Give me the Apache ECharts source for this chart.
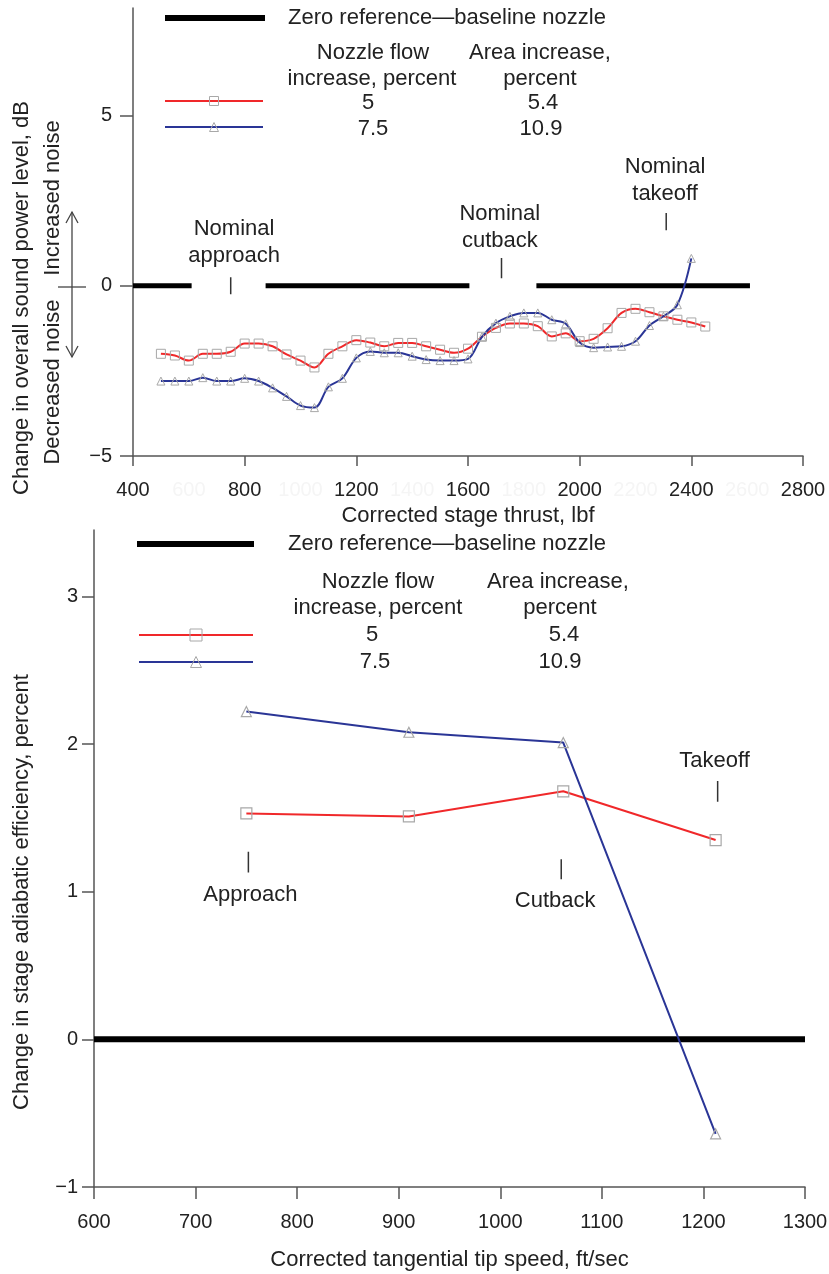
<!DOCTYPE html>
<html><head><meta charset="utf-8">
<script src="https://cdn.jsdelivr.net/npm/echarts@6/dist/echarts.min.js"></script>
<style>html,body{margin:0;padding:0;background:#fff}#c{width:829px;height:1274px}</style>
</head><body><div id="c"></div>
<script>
// ---------- Top chart data ----------
const thrustRed = [500,550,600,650,700,750,800,850,900,950,1000,1050,1100,1150,1200,1250,1300,1350,1400,1450,1500,1550,1600,1650,1700,1750,1800,1850,1900,1950,2000,2050,2100,2150,2200,2250,2300,2350,2400,2450];
const noiseRed = [-2.0,-2.05,-2.2,-2.0,-2.0,-1.94,-1.7,-1.7,-1.78,-2.02,-2.2,-2.4,-2.0,-1.78,-1.6,-1.67,-1.78,-1.68,-1.68,-1.78,-1.88,-1.97,-1.85,-1.5,-1.24,-1.11,-1.11,-1.19,-1.49,-1.4,-1.63,-1.56,-1.25,-0.8,-0.68,-0.78,-0.9,-1.0,-1.08,-1.2];
const thrustBlue = [500,550,600,650,700,750,800,850,900,950,1000,1050,1100,1150,1200,1250,1300,1350,1400,1450,1500,1550,1600,1650,1700,1750,1800,1850,1900,1950,2000,2050,2100,2150,2200,2250,2300,2350,2400];
const noiseBlue = [-2.8,-2.8,-2.8,-2.7,-2.8,-2.8,-2.72,-2.8,-3.0,-3.25,-3.52,-3.58,-2.97,-2.72,-2.12,-1.93,-1.97,-1.97,-2.07,-2.17,-2.2,-2.2,-2.15,-1.5,-1.1,-0.9,-0.8,-0.8,-1.0,-1.12,-1.67,-1.82,-1.8,-1.78,-1.63,-1.17,-0.9,-0.56,0.8];
const zeroSegmentsTop = [[400,610],[875,1605],[1845,2610]];
const xTickValuesTop = [400,800,1200,1600,2000,2400,2800];
const xLabelValuesTop = [400,600,800,1000,1200,1400,1600,1800,2000,2200,2400,2600,2800];
const yTickValuesTop = [-5,0,5];
const annotTopText = ['Nominal\napproach','Nominal\ncutback','Nominal\ntakeoff'];
const annotTopTickX = [750,1720,2310];
const annotTopTickY = [[-0.25,0.25],[0.22,0.81],[1.63,2.13]];
const annotTopTextPos = [[762,1.28],[1714,1.72],[2306,3.09]];

// ---------- Bottom chart data ----------
const tipSpeed = [750,910,1062,1212];
const effRed = [1.53,1.51,1.68,1.35];
const effBlue = [2.22,2.08,2.01,-0.64];
const zeroSegmentBottom = [600,1300];
const yTickValuesBottom = [-1,0,1,2,3];
const annotBotText = ['Approach','Cutback','Takeoff'];
const annotBotTickX = [752,1060,1214];
const annotBotTickY = [[1.13,1.27],[1.085,1.22],[1.61,1.75]];
const annotBotTextPos = [[754,0.98],[1054,0.935],[1211,1.885]];

const FONT = "'Liberation Sans', Arial, Helvetica, sans-serif";
const TXT = '#222';
const AX = '#555';
const RED = '#f0282a';
const BLUE = '#2a3596';
const MK = '#a8a8a8';
const FS = 22;

const chart = echarts.init(document.getElementById('c'), null, {renderer:'canvas'});

function zip(xs, ys){ return xs.map((x,i)=>[x, ys[i]]); }
const fmtNum = v => String(v).replace('-','\u2212');

const series = [];
zeroSegmentsTop.forEach(s => series.push({
  type:'line', xAxisIndex:0, yAxisIndex:0, data:[[s[0],0],[s[1],0]],
  symbol:'none', lineStyle:{color:'#000', width:5}, silent:true, z:2
}));
annotTopTickX.forEach((x,i) => series.push({
  type:'line', xAxisIndex:0, yAxisIndex:0, data:[[x,annotTopTickY[i][0]],[x,annotTopTickY[i][1]]],
  symbol:'none', lineStyle:{color:'#333', width:1.5}, silent:true, z:2
}));
series.push({
  type:'scatter', xAxisIndex:0, yAxisIndex:0,
  data: annotTopTextPos.map((p,i)=>[p[0],p[1],annotTopText[i]]),
  symbolSize:1, itemStyle:{color:'rgba(0,0,0,0)'}, silent:true,
  label:{show:true, position:'inside', formatter:p=>p.data[2], color:TXT, opacity:1, textBorderWidth:0, fontSize:FS, fontFamily:FONT, lineHeight:27, align:'center'}
});
series.push({
  type:'line', xAxisIndex:0, yAxisIndex:0, data: zip(thrustRed, noiseRed), smooth:0.35,
  symbol:'rect', symbolSize:9, lineStyle:{color:RED, width:2}, itemStyle:{color:'rgba(255,255,255,0)', borderColor:MK, borderWidth:1}, z:4
});
series.push({
  type:'line', xAxisIndex:0, yAxisIndex:0, data: zip(thrustBlue, noiseBlue), smooth:0.35,
  symbol:'triangle', symbolSize:8, lineStyle:{color:BLUE, width:2}, itemStyle:{color:'rgba(255,255,255,0)', borderColor:MK, borderWidth:1}, z:4
});

series.push({
  type:'line', xAxisIndex:1, yAxisIndex:1, data:[[zeroSegmentBottom[0],0],[zeroSegmentBottom[1],0]],
  symbol:'none', lineStyle:{color:'#000', width:6}, silent:true, z:2
});
annotBotTickX.forEach((x,i) => series.push({
  type:'line', xAxisIndex:1, yAxisIndex:1, data:[[x,annotBotTickY[i][0]],[x,annotBotTickY[i][1]]],
  symbol:'none', lineStyle:{color:'#333', width:1.5}, silent:true, z:2
}));
series.push({
  type:'scatter', xAxisIndex:1, yAxisIndex:1,
  data: annotBotTextPos.map((p,i)=>[p[0],p[1],annotBotText[i]]),
  symbolSize:1, itemStyle:{color:'rgba(0,0,0,0)'}, silent:true,
  label:{show:true, position:'inside', formatter:p=>p.data[2], color:TXT, opacity:1, textBorderWidth:0, fontSize:FS, fontFamily:FONT, align:'center'}
});
series.push({
  type:'line', xAxisIndex:1, yAxisIndex:1, data: zip(tipSpeed, effRed),
  symbol:'rect', symbolSize:11, lineStyle:{color:RED, width:2}, itemStyle:{color:'rgba(255,255,255,0)', borderColor:MK, borderWidth:1.2}, z:4
});
series.push({
  type:'line', xAxisIndex:1, yAxisIndex:1, data: zip(tipSpeed, effBlue),
  symbol:'triangle', symbolSize:10, lineStyle:{color:BLUE, width:2}, itemStyle:{color:'rgba(255,255,255,0)', borderColor:MK, borderWidth:1.2}, z:4
});

const axisLine = {show:true, onZero:false, lineStyle:{color:AX, width:1.5}};
const axisTick = {show:true, inside:false, length:11, lineStyle:{color:AX, width:1.5}};

function txt(x,y,t,opt){
  return {type:'text', x:x, y:y, style:Object.assign({text:t, fill:TXT, font:FS+'px '+FONT, align:'center', verticalAlign:'middle'}, opt||{})};
}
function vtxt(x,y,t){
  return {type:'text', x:x, y:y, rotation:Math.PI/2, style:{text:t, fill:TXT, font:FS+'px '+FONT, align:'center', verticalAlign:'middle'}};
}
function ln(x1,y1,x2,y2,color,w){
  return {type:'line', shape:{x1,y1,x2,y2}, style:{stroke:color, lineWidth:w}};
}
function rectMk(cx,cy,s){
  return {type:'rect', shape:{x:cx-s/2,y:cy-s/2,width:s,height:s}, style:{fill:'rgba(255,255,255,0)', stroke:MK, lineWidth:1}};
}
function triMk(cx,cy,s){
  return {type:'polygon', shape:{points:[[cx,cy-s/2],[cx+s/2,cy+s/2],[cx-s/2,cy+s/2]]}, style:{fill:'rgba(255,255,255,0)', stroke:MK, lineWidth:1}};
}

const graphic = [
  ln(165,18,265,18,'#000',6),
  txt(288,18,'Zero reference\u2014baseline nozzle',{align:'left'}),
  txt(373,53,'Nozzle flow'), txt(372,79,'increase, percent'),
  txt(540,53,'Area increase,'), txt(540,79,'percent'),
  ln(165,101,263,101,RED,2), rectMk(214,101,9),
  txt(368,103,'5'), txt(543,103,'5.4'),
  ln(165,127,263,127,BLUE,2), triMk(214,127,9),
  txt(373,129,'7.5'), txt(541,129,'10.9'),
  vtxt(22,298,'Change in overall sound power level, dB'),
  vtxt(53,198,'Increased noise'),
  vtxt(53,382,'Decreased noise'),
  ln(72,212,72,357,'#444',1.3),
  {type:'polyline', shape:{points:[[66,223],[72,212],[78,223]]}, style:{stroke:'#444', lineWidth:1.3, fill:null}},
  {type:'polyline', shape:{points:[[66,346],[72,357],[78,346]]}, style:{stroke:'#444', lineWidth:1.3, fill:null}},
  ln(58,287,86,287,'#444',1.3),
  ln(137,544,254,544,'#000',6),
  txt(288,544,'Zero reference\u2014baseline nozzle',{align:'left'}),
  txt(378,582,'Nozzle flow'), txt(378,608,'increase, percent'),
  txt(558,582,'Area increase,'), txt(560,608,'percent'),
  ln(139,635,253,635,RED,2), rectMk(196,635,12),
  txt(372,635,'5'), txt(564,635,'5.4'),
  ln(139,662,253,662,BLUE,2), triMk(196,662,11),
  txt(375,662,'7.5'), txt(560,662,'10.9'),
  vtxt(22,892,'Change in stage adiabatic efficiency, percent')
];

chart.setOption({
  animation:false,
  backgroundColor:'#fff',
  grid:[
    {left:133, right:26, top:8, height:448, outerBoundsMode:'none', containLabel:false},
    {left:94, right:24, top:530, height:657, outerBoundsMode:'none', containLabel:false}
  ],
  xAxis:[
    {gridIndex:0, type:'value', min:400, max:2800, interval:200,
     axisLine, axisTick:Object.assign({}, axisTick, {customValues:xTickValuesTop, length:10}),
     splitLine:{show:false},
     axisLabel:{customValues:xLabelValuesTop, margin:24, fontSize:20, fontFamily:FONT, formatter:v=>String(v),
       color:(v)=> (Number(v)%400===0 ? TXT : '#f5f5f5')},
     name:'Corrected stage thrust, lbf', nameLocation:'middle', nameGap:49,
     nameTextStyle:{fontSize:FS, fontFamily:FONT, color:TXT}},
    {gridIndex:1, type:'value', min:600, max:1300, interval:100,
     axisLine, axisTick:Object.assign({}, axisTick, {length:12}), splitLine:{show:false},
     axisLabel:{margin:25, fontSize:20, fontFamily:FONT, color:TXT, formatter:v=>String(v)},
     name:'Corrected tangential tip speed, ft/sec', nameLocation:'middle', nameGap:62,
     nameTextStyle:{fontSize:FS, fontFamily:FONT, color:TXT}}
  ],
  yAxis:[
    {gridIndex:0, type:'value', min:-5, max:8.15,
     axisLine, axisTick:Object.assign({}, axisTick, {customValues:yTickValuesTop, length:13}), splitLine:{show:false},
     axisLabel:{customValues:yTickValuesTop, margin:21, fontSize:20, fontFamily:FONT, color:TXT, formatter:fmtNum}},
    {gridIndex:1, type:'value', min:-1, max:3.45,
     axisLine, axisTick:Object.assign({}, axisTick, {customValues:yTickValuesBottom, length:12}), splitLine:{show:false},
     axisLabel:{customValues:yTickValuesBottom, margin:16, fontSize:20, fontFamily:FONT, color:TXT, formatter:fmtNum}}
  ],
  series,
  graphic
});
</script></body></html>
